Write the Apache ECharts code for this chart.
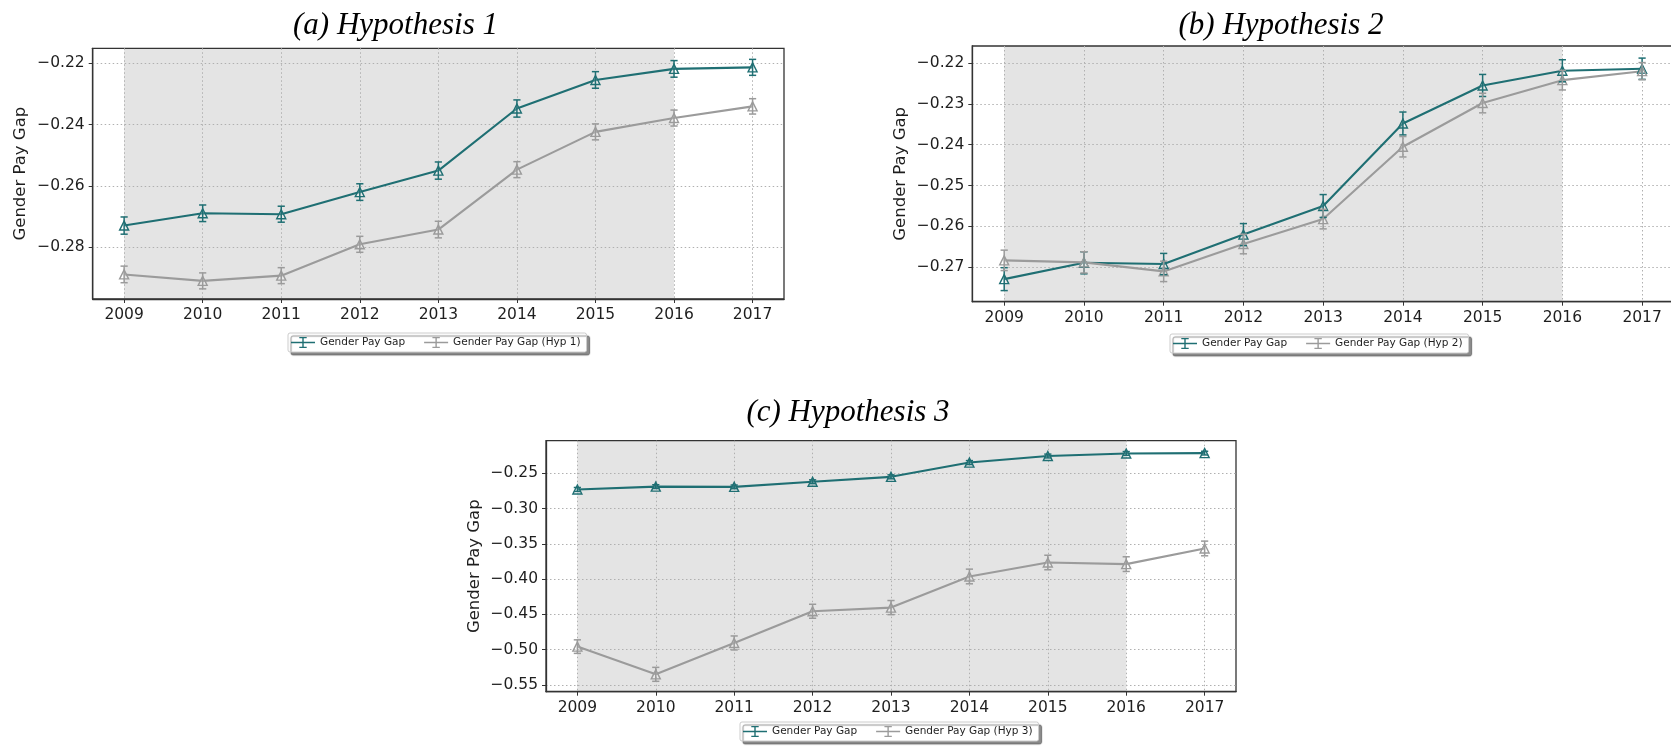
<!DOCTYPE html>
<html>
<head>
<meta charset="utf-8">
<script src="https://cdn.jsdelivr.net/npm/echarts@6/dist/echarts.min.js"></script>
<style>
  html, body { margin: 0; padding: 0; background: #ffffff; }
  #chart { width: 1671px; height: 746px; }
</style>
</head>
<body>
<div id="chart"></div>
<script>
// ---- data ----
const years = [2009, 2010, 2011, 2012, 2013, 2014, 2015, 2016, 2017];

const gapBase    = [-0.2729, -0.2689, -0.2692, -0.2620, -0.2550, -0.2348, -0.2255, -0.2219, -0.2214];
const gapBaseErr = [0.0028, 0.0027, 0.0026, 0.0027, 0.0028, 0.0028, 0.0027, 0.0027, 0.0026];

const gapHyp1    = [-0.2888, -0.2909, -0.2892, -0.2790, -0.2742, -0.2547, -0.2424, -0.2379, -0.2341];
const gapHyp1Err = [0.0027, 0.0026, 0.0026, 0.0026, 0.0027, 0.0026, 0.0026, 0.0026, 0.0025];

const gapHyp2    = [-0.2683, -0.2688, -0.2710, -0.2643, -0.2582, -0.2405, -0.2298, -0.2242, -0.2220];
const gapHyp2Err = [0.0025, 0.0026, 0.0025, 0.0024, 0.0024, 0.0025, 0.0024, 0.0024, 0.0021];

const gapHyp3    = [-0.4956, -0.5349, -0.4904, -0.4455, -0.4403, -0.3962, -0.3764, -0.3787, -0.3565];
const gapHyp3Err = [0.0096, 0.0099, 0.0099, 0.0099, 0.0100, 0.0104, 0.0103, 0.0104, 0.0104];

const baseName = 'Gender Pay Gap';
const hypNames = ['Gender Pay Gap (Hyp 1)', 'Gender Pay Gap (Hyp 2)', 'Gender Pay Gap (Hyp 3)'];
const panelTitles = ['(a) Hypothesis 1', '(b) Hypothesis 2', '(c) Hypothesis 3'];
const yAxisTitle = 'Gender Pay Gap';

const yTicksA = [-0.28, -0.26, -0.24, -0.22];
const yTicksB = [-0.27, -0.26, -0.25, -0.24, -0.23, -0.22];
const yTicksC = [-0.55, -0.50, -0.45, -0.40, -0.35, -0.30, -0.25];

const shadedSpan = [2009, 2016];

// ---- layout ----
const panels = [
  { grid: { left: 92.7, top: 48.3, width: 691.3, height: 250.7 }, yMin: -0.2968, yMax: -0.2152,
    yTicks: yTicksA, hyp: gapHyp1, hypErr: gapHyp1Err, titleX: 395.5, titleTop: 10, legendLeft: 288, legendTop: 333 },
  { grid: { left: 972.3, top: 46, width: 701.7, height: 255.7 }, yMin: -0.27842, yMax: -0.21584,
    yTicks: yTicksB, hyp: gapHyp2, hypErr: gapHyp2Err, titleX: 1281, titleTop: 10, legendLeft: 1170, legendTop: 334 },
  { grid: { left: 546, top: 440.7, width: 690, height: 251 }, yMin: -0.5595, yMax: -0.2038,
    yTicks: yTicksC, hyp: gapHyp3, hypErr: gapHyp3Err, titleX: 848, titleTop: 397, legendLeft: 740, legendTop: 722 }
];

const TEAL = '#1f6f73';
const GRAY = '#9b9b9b';
const SHADE = '#e4e4e4';
const TEXT = '#1e1e1e';
const SANS = 'DejaVu Sans';

// legend glyph: horizontal line crossed by a capped error bar
const errIcon = 'path://M0,5.3H24V6.7H0Z M11.3,0.5H12.7V11.5H11.3Z M8.3,0.5H15.7V1.7H8.3Z M8.3,10.3H15.7V11.5H8.3Z';

const fmtTick = v => (v < 0 ? '\u2212' : '') + Math.abs(v).toFixed(2);

function lineSeries(name, vals, color, k, withShade) {
  const s = {
    type: 'line', name: name, xAxisIndex: k, yAxisIndex: k, z: 3,
    data: years.map((y, i) => [y, vals[i]]),
    symbol: 'triangle', symbolSize: [9, 9], showSymbol: true,
    lineStyle: { color: color, width: 2.1 },
    itemStyle: { color: 'rgba(255,255,255,0.2)', borderColor: color, borderWidth: 1.4 },
    emphasis: { disabled: true },
    animation: false, silent: true
  };
  if (withShade) {
    s.markArea = {
      silent: true, z: 1,
      itemStyle: { color: SHADE, opacity: 1 },
      label: { show: false },
      data: [[{ xAxis: shadedSpan[0] }, { xAxis: shadedSpan[1] }]]
    };
  }
  return s;
}

function errorSeries(name, vals, errs, color, k) {
  return {
    type: 'custom', name: name, xAxisIndex: k, yAxisIndex: k, z: 4, silent: true, animation: false,
    data: years.map((y, i) => [y, vals[i] - errs[i], vals[i] + errs[i]]),
    encode: { x: 0, y: [1, 2] },
    renderItem: function (params, api) {
      const x = api.value(0);
      const lo = api.coord([x, api.value(1)]);
      const hi = api.coord([x, api.value(2)]);
      const hw = 3.6;
      const st = { stroke: color, lineWidth: 1.5, fill: null };
      return {
        type: 'group',
        children: [
          { type: 'line', shape: { x1: lo[0], y1: lo[1], x2: hi[0], y2: hi[1] }, style: st },
          { type: 'line', shape: { x1: lo[0] - hw, y1: lo[1], x2: lo[0] + hw, y2: lo[1] }, style: st },
          { type: 'line', shape: { x1: hi[0] - hw, y1: hi[1], x2: hi[0] + hw, y2: hi[1] }, style: st }
        ]
      };
    }
  };
}

const gridLine = { show: true, lineStyle: { color: '#b0b0b0', width: 1, type: [1.5, 2.5] } };

const option = {
  backgroundColor: '#ffffff',
  animation: false,
  title: panels.map((p, k) => ({
    text: panelTitles[k], left: p.titleX, top: p.titleTop, textAlign: 'center', padding: 0,
    textStyle: { fontFamily: 'Liberation Serif', fontStyle: 'italic', fontWeight: 'normal', fontSize: 31, color: '#000' }
  })),
  grid: panels.map(p => Object.assign({
    show: true, backgroundColor: 'transparent', borderColor: '#333', borderWidth: 1.3,
    containLabel: false, outerBoundsMode: 'none', z: 2
  }, p.grid)),
  xAxis: panels.map((p, k) => ({
    type: 'value', gridIndex: k, min: 2008.6, max: 2017.4, z: 2,
    axisLine: { show: true, lineStyle: { color: '#333', width: 1.3 } },
    axisTick: { show: true, inside: false, length: 4, customValues: years, lineStyle: { color: '#333', width: 1 } },
    axisLabel: { show: true, customValues: years, margin: 8, fontFamily: SANS, fontSize: 15.5, color: TEXT,
                 formatter: v => String(v) },
    splitLine: gridLine
  })),
  yAxis: panels.map((p, k) => ({
    type: 'value', gridIndex: k, min: p.yMin, max: p.yMax, z: 2,
    name: yAxisTitle, nameLocation: 'middle', nameGap: 63,
    nameTextStyle: { fontFamily: SANS, fontSize: 16.5, color: TEXT },
    axisLine: { show: true, lineStyle: { color: '#333', width: 1.3 } },
    axisTick: { show: true, inside: false, length: 4, customValues: p.yTicks, lineStyle: { color: '#333', width: 1 } },
    axisLabel: { show: true, customValues: p.yTicks, margin: 8, fontFamily: SANS, fontSize: 15.5, color: TEXT,
                 formatter: fmtTick },
    splitLine: gridLine
  })),
  legend: panels.map((p, k) => ({
    left: p.legendLeft, top: p.legendTop, orient: 'horizontal', selectedMode: false,
    data: [
      { name: baseName, itemStyle: { color: TEAL, borderWidth: 0 } },
      { name: hypNames[k], itemStyle: { color: GRAY, borderWidth: 0 } }
    ],
    icon: errIcon, itemWidth: 24, itemHeight: 12, itemGap: 19,
    padding: [4, 6, 4, 3],
    backgroundColor: '#ffffff', borderColor: '#cccccc', borderWidth: 1, borderRadius: 2,
    shadowColor: 'rgba(0,0,0,0.45)', shadowBlur: 1, shadowOffsetX: 3, shadowOffsetY: 3,
    textStyle: { fontFamily: SANS, fontSize: 10.5, color: TEXT }
  })),
  series: []
};

panels.forEach((p, k) => {
  option.series.push(lineSeries(baseName, gapBase, TEAL, k, true));
  option.series.push(lineSeries(hypNames[k], p.hyp, GRAY, k, false));
  option.series.push(errorSeries(baseName + ' err ' + k, gapBase, gapBaseErr, TEAL, k));
  option.series.push(errorSeries(hypNames[k] + ' err', p.hyp, p.hypErr, GRAY, k));
});

const chart = echarts.init(document.getElementById('chart'), null, { renderer: 'canvas' });
chart.setOption(option);
</script>
</body>
</html>
